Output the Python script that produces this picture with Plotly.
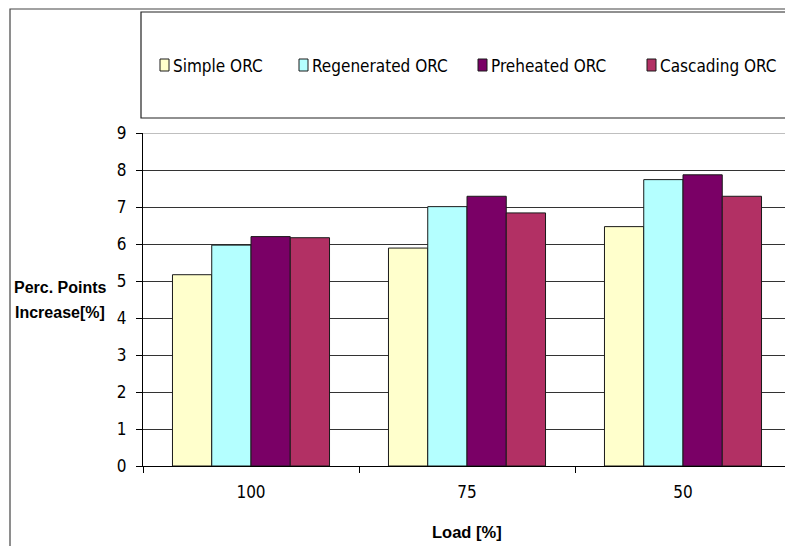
import plotly.graph_objects as go

# Load cases and efficiency gains (percentage points) for each ORC layout
loads = ["100", "75", "50"]
simple_orc = [5.17, 5.89, 6.47]
regenerated_orc = [5.97, 7.01, 7.74]
preheated_orc = [6.20, 7.29, 7.87]
cascading_orc = [6.17, 6.84, 7.29]

series_names = ["Simple ORC", "Regenerated ORC", "Preheated ORC", "Cascading ORC"]
series_values = [simple_orc, regenerated_orc, preheated_orc, cascading_orc]
series_colors = ["#FFFFCC", "#B4FFFF", "#7A0066", "#B23064"]
y_ticks = list(range(0, 10))

# Figure geometry (pixels)
W, H = 785, 546
ML, MR, MT, MB = 143, 0, 133, 80
PW, PH = W - ML - MR, H - MT - MB

TICK_FONT = "DejaVu Sans Condensed, Liberation Sans Narrow, sans-serif"
BOLD_FONT = "Liberation Sans, Arial, sans-serif"


def px(x):
    return (x - ML) / PW


def py(y):
    return (H - MB - y) / PH


fig = go.Figure()
for name, vals, color in zip(series_names, series_values, series_colors):
    fig.add_trace(go.Bar(
        x=loads, y=vals, name=name,
        marker=dict(color=color, line=dict(color="#1a1a1a", width=1)),
        showlegend=False,
    ))

shapes = []
annotations = []

# outer chart frame
shapes.append(dict(type="rect", xref="paper", yref="paper",
                   x0=px(10), x1=px(W + 20), y0=py(H + 20), y1=py(9),
                   line=dict(color="#444444", width=1.2), fillcolor="rgba(0,0,0,0)",
                   layer="below"))
# legend frame
shapes.append(dict(type="rect", xref="paper", yref="paper",
                   x0=px(141), x1=px(W + 20), y0=py(118), y1=py(12),
                   line=dict(color="#222222", width=1.2), fillcolor="rgba(0,0,0,0)",
                   layer="below"))
# top plot edge at 9
shapes.append(dict(type="line", xref="paper", yref="y",
                   x0=0, x1=1, y0=9, y1=9,
                   line=dict(color="#AAAAAA", width=1.5), layer="above"))

# legend entries
legend_x = [160, 299, 478, 647]
for lx, name, color in zip(legend_x, series_names, series_colors):
    shapes.append(dict(type="rect", xref="paper", yref="paper",
                       x0=px(lx), x1=px(lx + 9), y0=py(71), y1=py(59),
                       line=dict(color="#1a1a1a", width=1), fillcolor=color))
    annotations.append(dict(xref="paper", yref="paper", x=px(lx + 11), y=py(65.5),
                            xanchor="left", yanchor="middle", showarrow=False,
                            text=name, font=dict(family=TICK_FONT, size=17, color="#000000")))

# axis titles
annotations.append(dict(xref="x", yref="paper", x=1, y=py(532),
                        xanchor="center", yanchor="middle", showarrow=False,
                        text="<b>Load [%]</b>",
                        font=dict(family=BOLD_FONT, size=16.5, color="#000000")))
for txt, yy in [("Perc. Points", 287), ("Increase[%]", 312)]:
    annotations.append(dict(xref="paper", yref="paper", x=px(60), y=py(yy),
                            xanchor="center", yanchor="middle", showarrow=False,
                            text="<b>" + txt + "</b>",
                            font=dict(family=BOLD_FONT, size=16, color="#000000")))

fig.update_layout(
    width=W, height=H, autosize=False,
    margin=dict(l=ML, r=MR, t=MT, b=MB, pad=0),
    paper_bgcolor="white", plot_bgcolor="white",
    barmode="group", bargap=0.273, bargroupgap=0,
    shapes=shapes, annotations=annotations,
    showlegend=False,
)
fig.update_xaxes(
    type="category", categoryorder="array", categoryarray=loads,
    range=[-0.5, 2.5 - 6 / 216],
    showgrid=False, showline=True, linecolor="#000000", linewidth=1,
    ticks="outside", tickson="boundaries", ticklen=6, tickcolor="#000000",
    ticklabelstandoff=11,
    tickfont=dict(family=TICK_FONT, size=17, color="#000000"),
    zeroline=False, fixedrange=True,
)
fig.update_yaxes(
    range=[0, 9], tickvals=y_ticks, ticktext=[str(v) for v in y_ticks],
    showgrid=True, gridcolor="#333333", gridwidth=1,
    showline=True, linecolor="#000000", linewidth=1,
    ticks="outside", ticklen=6, tickcolor="#000000",
    ticklabelstandoff=6,
    tickfont=dict(family=TICK_FONT, size=17, color="#000000"),
    zeroline=False, fixedrange=True,
)

fig.write_html("out.html")
